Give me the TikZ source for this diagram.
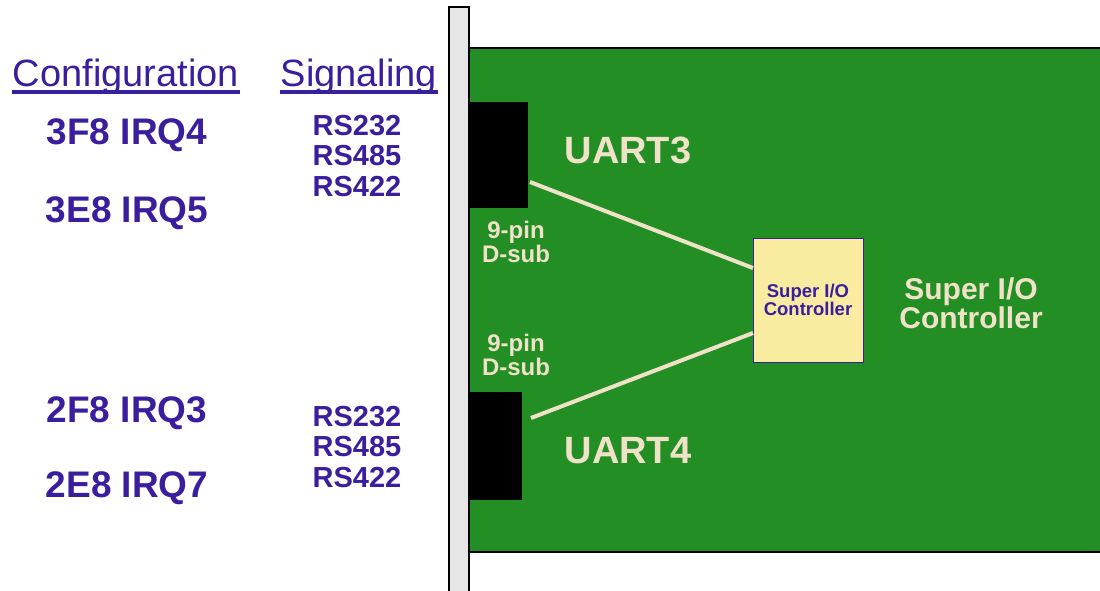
\documentclass[tikz,border=0pt]{standalone}
\usepackage{fontspec}
\setmainfont{Liberation Sans}
\definecolor{cfgblue}{HTML}{3A1E9E}
\definecolor{boardgreen}{HTML}{238E23}
\definecolor{silkcream}{HTML}{F0E2C8}
\definecolor{chipyellow}{HTML}{F9EBA0}
\definecolor{bracketgray}{HTML}{E6E6E6}

\begin{document}
\begin{tikzpicture}[x=1pt,y=-1pt,inner sep=0pt,outer sep=0pt]

\tikzset{
head/.style={
    text=cfgblue,
    font=\fontsize{38}{38}\selectfont,
    anchor=base
},
port/.style={
    text=cfgblue,
    font=\bfseries\fontsize{37}{37}\selectfont,
    anchor=base
},
sig/.style={
    text=cfgblue,
    font=\bfseries\fontsize{29}{30.5}\selectfont,
    align=left
},
conn/.style={
    fill=black,
    anchor=north west
},
uart/.style={
    text=silkcream,
    font=\bfseries\fontsize{38}{38}\selectfont,
    anchor=base
},
pinlbl/.style={
    text=silkcream,
    font=\bfseries\fontsize{24}{24}\selectfont,
    align=center
},
chip/.style={
    draw=cfgblue,
    fill=chipyellow,
    line width=1pt,
    text=cfgblue,
    font=\bfseries\fontsize{18.5}{18}\selectfont,
    align=center,
    minimum width=110pt,
    minimum height=124pt
},
biglbl/.style={
    text=silkcream,
    font=\bfseries\fontsize{30}{29}\selectfont,
    align=center
},
wire/.style={color=silkcream,line width=4pt}
}

\useasboundingbox (0,0) rectangle (1100,591);

% bracket and board
\draw[fill=bracketgray,line width=2pt] (449,7) rectangle (469,600);
\draw[fill=boardgreen,line width=2pt] (469,48) rectangle (1110,552);

\node[conn,minimum width=59pt,minimum height=106pt] (db3) at (469,102) {};
\node[conn,minimum width=53pt,minimum height=108pt] (db4) at (469,392) {};
\node[chip] (sio) at (808,300) {Super I/O\\Controller};

\draw[wire] ([xshift=2pt,yshift=-27pt]db3.east) -- ([yshift=32pt]sio.west);
\draw[wire] ([xshift=9pt,yshift=28pt]db4.east) -- ([yshift=-33pt]sio.west);

\node[uart] (uart3) at (628,163) {UART3};
\node[uart] (uart4) at (628,463) {UART4};
\node[pinlbl] (pin3) at (516,242) {9-pin\\D-sub};
\node[pinlbl] (pin4) at (516,355) {9-pin\\D-sub};
\node[biglbl] (siolbl) at (971,303) {Super I/O\\Controller};

% left side
\node[head] (cfg) at (126,87) {Configuration};
\node[head] (sighead) at (359,87) {Signaling};
\draw[cfgblue,line width=3.5pt] ([xshift=-1pt,yshift=-5pt]cfg.base west) -- ([xshift=1pt,yshift=-5pt]cfg.base east);
\draw[cfgblue,line width=3.5pt] ([xshift=-1pt,yshift=-5pt]sighead.base west) -- ([xshift=1pt,yshift=-5pt]sighead.base east);

\node[port] (io3f8) at (127,145) {3F8 IRQ4};
\node[port] (io3e8) at (127,222) {3E8 IRQ5};
\node[port] (io2f8) at (127,422) {2F8 IRQ3};
\node[port] (io2e8) at (127,497) {2E8 IRQ7};

\node[sig] (sig3) at (357,156) {RS232\\RS485\\RS422};
\node[sig] (sig4) at (357,447) {RS232\\RS485\\RS422};

\end{tikzpicture}
\end{document}
